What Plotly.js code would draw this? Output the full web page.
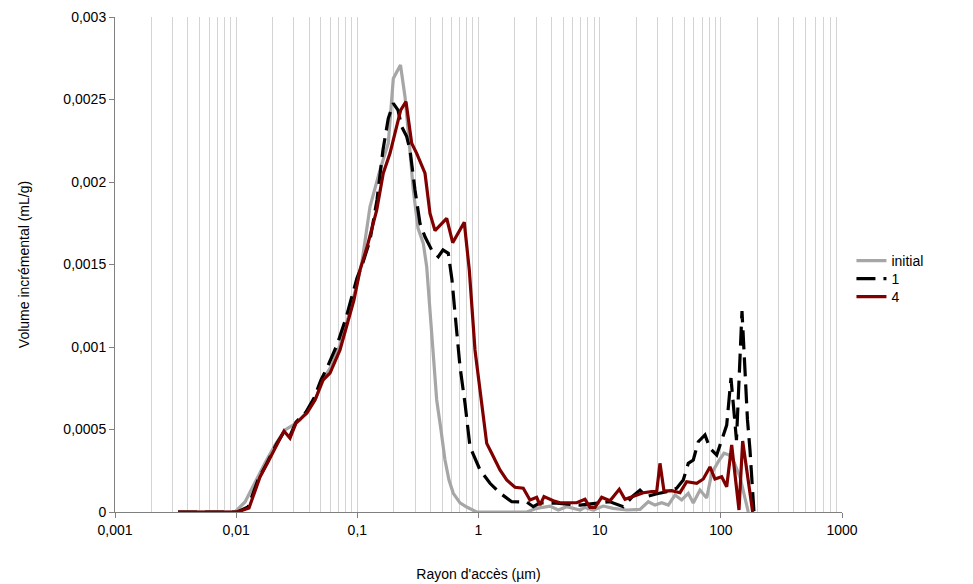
<!DOCTYPE html>
<html>
<head>
<meta charset="utf-8">
<script src="https://cdn.plot.ly/plotly-3.0.1.min.js"></script>
<style>
html,body{margin:0;padding:0;background:#fff;}
#chart{width:973px;height:584px;}
</style>
</head>
<body>
<div id="chart"></div>
<script>
// Series names
const seriesNames = ['initial', '1', '4'];

// Series "initial"
const xInitial = [0.00331, 0.00978, 0.01183, 0.0143, 0.01729, 0.02091, 0.02529, 0.02944, 0.03364, 0.03916,
  0.04558, 0.05308, 0.06179, 0.07193, 0.08374, 0.09748, 0.1092, 0.1272, 0.1538, 0.1801,
  0.1981, 0.2271, 0.2474, 0.2684, 0.2895, 0.3167, 0.3502, 0.3736, 0.4108, 0.4518,
  0.4902, 0.529, 0.5707, 0.6194, 0.7036, 0.799, 0.9663, 2.498, 3.021, 3.89,
  4.555, 5.343, 6.881, 7.564, 8.858, 10.71, 12.95, 16.71, 21.52, 25.19,
  28.61, 32.5, 36.85, 41.83, 47.52, 53.87, 59.24, 67.3, 76.42, 84.05,
  95.28, 106.2, 117.4, 128.4, 143.9, 158.2, 168.5];
const yInitial = [0, 0, 0.000061, 0.000182, 0.000297, 0.000406, 0.000497, 0.000527, 0.000558, 0.000618,
  0.000691, 0.000812, 0.000891, 0.001012, 0.001176, 0.001358, 0.001515, 0.00185, 0.002073, 0.002235,
  0.002628, 0.002709, 0.002517, 0.002235, 0.001952, 0.001721, 0.001628, 0.001487, 0.001083, 0.000679,
  0.000497, 0.000315, 0.000194, 0.000113, 0.000055, 0.00003, 0, 0, 0.000022, 0.000036,
  0.000012, 0.000032, 0.000012, 0.000028, 0.000012, 0.000036, 0.000022, 0.000012, 0.000016, 0.000062,
  0.000042, 0.000056, 0.000042, 0.000103, 0.000073, 0.000113, 0.000055, 0.000133, 0.000085, 0.000235,
  0.000305, 0.000356, 0.000345, 0.000303, 0.000212, 0.000073, 0];

// Series "1"
const x1 = [0.00331, 0.0102, 0.01252, 0.01514, 0.01796, 0.02173, 0.02481, 0.02781, 0.03117, 0.0377,
  0.04388, 0.05013, 0.05617, 0.06795, 0.08061, 0.09035, 0.09936, 0.1107, 0.1272, 0.1453,
  0.1628, 0.1801, 0.1981, 0.2166, 0.2323, 0.2555, 0.272, 0.2991, 0.3289, 0.3617,
  0.4108, 0.4658, 0.5092, 0.5631, 0.6043, 0.6397, 0.7036, 0.7734, 0.8508, 1.029,
  1.244, 1.504, 1.879, 2.498, 2.833, 3.217, 4.419, 6.881, 10.39, 12.17,
  15.66, 18.84, 21.52, 24.44, 29.16, 35.74, 43.21, 48.98, 53.87, 59.24,
  65.15, 73.99, 81.37, 92.43, 111.8, 121.3, 134.6, 149.5, 158.2, 165.9,
  174.0, 187.7];
const y1 = [0, 0, 0.00003, 0.000194, 0.000297, 0.000418, 0.000485, 0.000461, 0.000545, 0.000606,
  0.000691, 0.0008, 0.000873, 0.001012, 0.001176, 0.001315, 0.001418, 0.001507, 0.001648, 0.001891,
  0.002194, 0.002386, 0.002477, 0.002436, 0.002335, 0.002275, 0.002194, 0.001952, 0.00175, 0.001668,
  0.001588, 0.001547, 0.001588, 0.001568, 0.001406, 0.001206, 0.000881, 0.000659, 0.000396, 0.000255,
  0.000174, 0.000115, 0.000062, 0.000061, 0.000032, 0.000055, 0.000053, 0.000042, 0.000053, 0.000062,
  0.000032, 0.000097, 0.000133, 0.000093, 0.000109, 0.000123, 0.000144, 0.000194, 0.000295, 0.000315,
  0.000426, 0.000467, 0.000386, 0.000345, 0.000527, 0.000812, 0.000436, 0.001218, 0.000861, 0.000558,
  0.000376, 0];

// Series "4"
const x4 = [0.00331, 0.0102, 0.01276, 0.01573, 0.01831, 0.02214, 0.02481, 0.02781, 0.03117, 0.03841,
  0.04473, 0.05207, 0.05949, 0.07193, 0.08697, 0.09385, 0.1052, 0.1195, 0.1445, 0.1637,
  0.186, 0.2113, 0.2279, 0.2521, 0.2809, 0.3089, 0.3617, 0.3978, 0.4374, 0.5464,
  0.6124, 0.7631, 0.8395, 0.9354, 1.062, 1.169, 1.285, 1.504, 1.709, 2.0,
  2.342, 2.66, 3.021, 3.217, 3.471, 4.141, 4.704, 6.461, 7.564, 8.319,
  9.15, 10.39, 12.17, 14.51, 16.18, 20.21, 22.91, 26.87, 29.55, 31.46,
  33.95, 39.3, 46.01, 52.26, 63.21, 71.64, 81.37, 89.46, 101.6, 111.8,
  122.9, 141.2, 151.4, 183.1];
const y4 = [0, 0, 0.000024, 0.000212, 0.000303, 0.000424, 0.000491, 0.000448, 0.000539, 0.0006,
  0.000679, 0.0008, 0.000842, 0.000982, 0.001206, 0.001285, 0.001467, 0.001598, 0.00183, 0.002053,
  0.002174, 0.002335, 0.002436, 0.002487, 0.002235, 0.002174, 0.002053, 0.00181, 0.001705, 0.00178,
  0.001632, 0.001756, 0.001467, 0.000982, 0.000679, 0.000416, 0.000356, 0.000255, 0.000194, 0.00015,
  0.000144, 0.000073, 0.000089, 0.000042, 0.000093, 0.000068, 0.000056, 0.000056, 0.000077, 0.000028,
  0.000028, 0.000089, 0.000068, 0.000138, 0.000077, 0.000103, 0.000117, 0.000123, 0.000123, 0.000295,
  0.000127, 0.000129, 0.000117, 0.000184, 0.000174, 0.0002, 0.000273, 0.0002, 0.000214, 0.000153,
  0.000406, 0.000012, 0.00043, 0];

// Axis ticks
const xTickVals = [0.001, 0.01, 0.1, 1, 10, 100, 1000];
const xTickText = ['0,001', '0,01', '0,1', '1', '10', '100', '1000'];
const yTickVals = [0, 0.0005, 0.001, 0.0015, 0.002, 0.0025, 0.003];
const yTickText = ['0', '0,0005', '0,001', '0,0015', '0,002', '0,0025', '0,003'];

const FONT = 'Liberation Sans, Arial, sans-serif';
const FS = 14;

const traces = [
  {x: xInitial, y: yInitial, name: seriesNames[0], type: 'scatter', mode: 'lines', legend: 'legend',
   line: {color: '#a6a6a6', width: 3.2}},
  {x: x1, y: y1, name: seriesNames[1], type: 'scatter', mode: 'lines', legend: 'legend2',
   line: {color: '#000000', width: 3.2, dash: '19px,8px'}},
  {x: x4, y: y4, name: seriesNames[2], type: 'scatter', mode: 'lines', legend: 'legend3',
   line: {color: '#800000', width: 3.2}}
];

function legendAt(y) {
  return {x: 1.013, xanchor: 'left', y: y, yanchor: 'middle',
          font: {family: FONT, size: FS, color: '#000000'},
          bgcolor: 'rgba(0,0,0,0)', borderwidth: 0};
}

const layout = {
  width: 973, height: 584,
  margin: {l: 115, r: 131, t: 17, b: 72, pad: 0},
  paper_bgcolor: '#ffffff', plot_bgcolor: '#ffffff',
  font: {family: FONT, size: FS, color: '#000000'},
  showlegend: true,
  legend: legendAt(0.507),
  legend2: legendAt(0.4707),
  legend3: legendAt(0.4343),
  xaxis: {
    type: 'log', range: [-3, 3],
    tickmode: 'array', tickvals: xTickVals, ticktext: xTickText,
    showgrid: true, gridcolor: '#d4d4d4', gridwidth: 1,
    minor: {dtick: 'D1', showgrid: true, gridcolor: '#d4d4d4', gridwidth: 1, ticks: ''},
    showline: true, linecolor: '#808080', linewidth: 1,
    ticks: 'outside', ticklen: 5, tickcolor: '#808080',
    zeroline: false,
    tickfont: {family: FONT, size: FS, color: '#000000'},
    title: {text: "Rayon d'accès (µm)", font: {family: FONT, size: FS, color: '#000000'}, standoff: 32}
  },
  yaxis: {
    range: [0, 0.003],
    tickmode: 'array', tickvals: yTickVals, ticktext: yTickText,
    showgrid: false,
    showline: true, linecolor: '#808080', linewidth: 1,
    ticks: 'outside', ticklen: 5, tickcolor: '#808080',
    zeroline: false,
    tickfont: {family: FONT, size: FS, color: '#000000'},
    title: {text: 'Volume incrémental (mL/g)', font: {family: FONT, size: FS, color: '#000000'}, standoff: 30}
  }
};

Plotly.newPlot('chart', traces, layout, {staticPlot: true, displayModeBar: false});
</script>
</body>
</html>
